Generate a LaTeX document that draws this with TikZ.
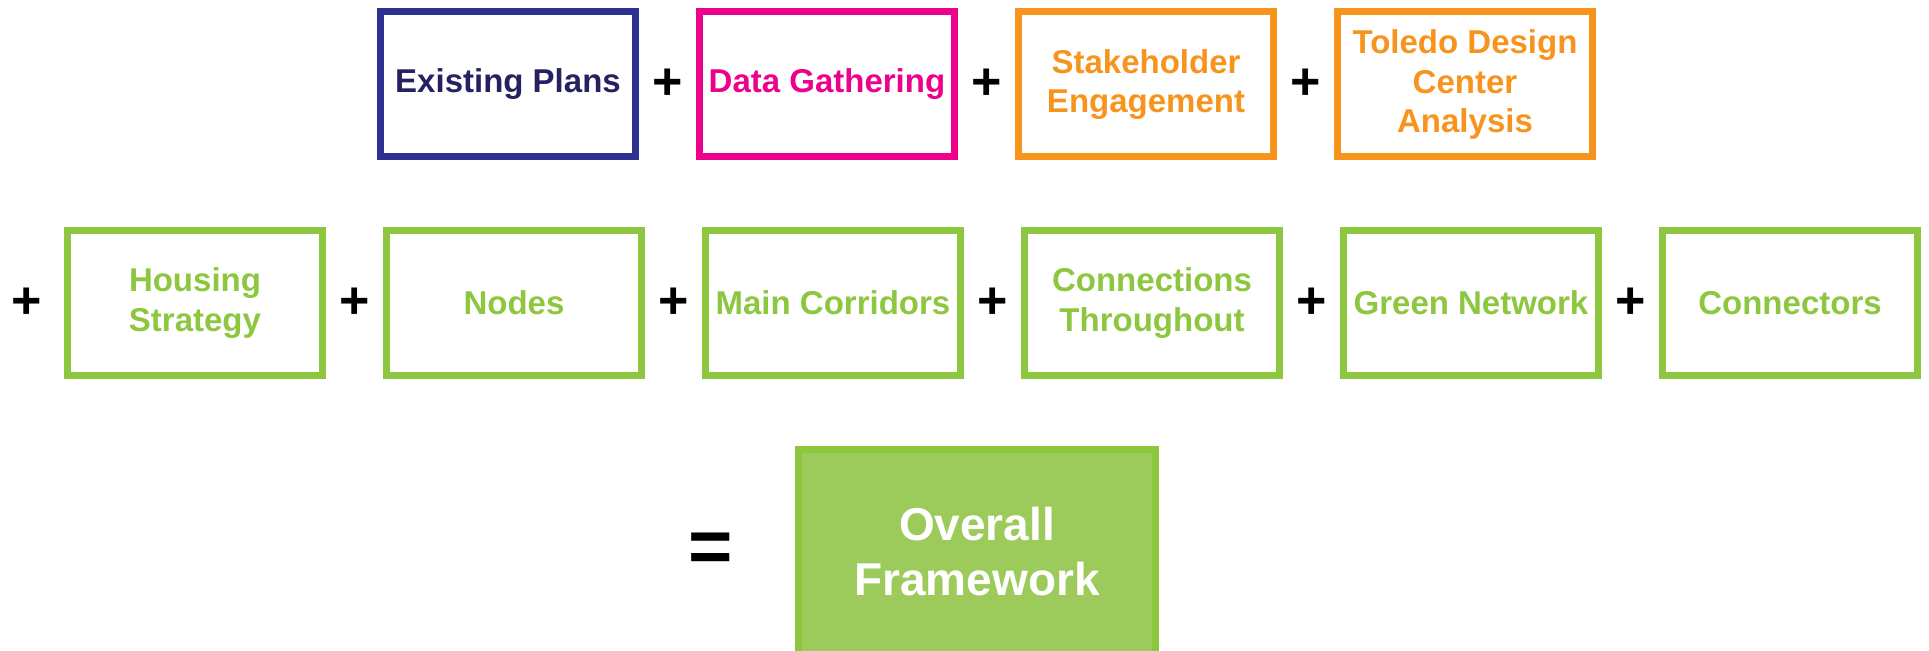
\documentclass[tikz,border=0pt]{standalone}
\usepackage{fontspec}
\setmainfont{Liberation Sans}
\usetikzlibrary{positioning, calc}
\definecolor{plannavy}{HTML}{2E3192}
\definecolor{plantext}{HTML}{262262}
\definecolor{datapink}{HTML}{EC008C}
\definecolor{stakeorange}{HTML}{F7941D}
\definecolor{frameworkgreen}{HTML}{8DC63F}
\definecolor{overallfill}{HTML}{9CCB5C}

\begin{document}
\begin{tikzpicture}[
    x=0.5pt, y=0.5pt,
    node distance=28.5pt,
    every node/.style={font=\bfseries\fontsize{16.5}{19.8}\selectfont},
    box/.style={draw, line width=3.5pt, minimum width=127.5pt, minimum height=72.5pt, align=center, inner sep=2pt},
    greenbox/.style={box, draw=frameworkgreen, text=frameworkgreen},
    plus/.style={font=\bfseries\fontsize{26}{26}\selectfont, text=black, inner sep=0pt},
    result/.style={draw=frameworkgreen, fill=overallfill, line width=3.5pt, text=white, align=center,
      minimum width=178.5pt, minimum height=102.5pt, font=\bfseries\fontsize{23}{27.5}\selectfont}
  ]
  \useasboundingbox (0,0) rectangle (1929,651);

  % inputs
  \node[box, draw=plannavy, text=plantext] (plans) at (508,566.5) {Existing Plans};
  \node[box, draw=datapink, text=datapink, right=of plans] (data) {Data Gathering};
  \node[box, draw=stakeorange, text=stakeorange, right=of data] (stake) {Stakeholder\\Engagement};
  \node[box, draw=stakeorange, text=stakeorange, right=of stake] (tdc) {Toledo Design\\Center\\Analysis};
  \node[plus] (p1) at ($(plans.east)!0.5!(data.west)$) {+};
  \node[plus] (p2) at ($(data.east)!0.5!(stake.west)$) {+};
  \node[plus] (p3) at ($(stake.east)!0.5!(tdc.west)$) {+};

  % framework elements
  \node[greenbox] (housing) at (195,348) {Housing\\Strategy};
  \node[greenbox, right=of housing] (nodes) {Nodes};
  \node[greenbox, right=of nodes] (corr) {Main Corridors};
  \node[greenbox, right=of corr] (conn) {Connections\\Throughout};
  \node[greenbox, right=of conn] (green) {Green Network};
  \node[greenbox, right=of green] (connectors) {Connectors};
  \node[plus] (p4) at ($(housing.west)+(-37,0)$) {+};
  \node[plus] (p5) at ($(housing.east)!0.5!(nodes.west)$) {+};
  \node[plus] (p6) at ($(nodes.east)!0.5!(corr.west)$) {+};
  \node[plus] (p7) at ($(corr.east)!0.5!(conn.west)$) {+};
  \node[plus] (p8) at ($(conn.east)!0.5!(green.west)$) {+};
  \node[plus] (p9) at ($(green.east)!0.5!(connectors.west)$) {+};

  % result
  \node[result] (overall) at (977,99) {Overall\\Framework};
  \node[plus, font=\bfseries\fontsize{38}{38}\selectfont] (eq) at (711,98) {=};
\end{tikzpicture}
\end{document}
